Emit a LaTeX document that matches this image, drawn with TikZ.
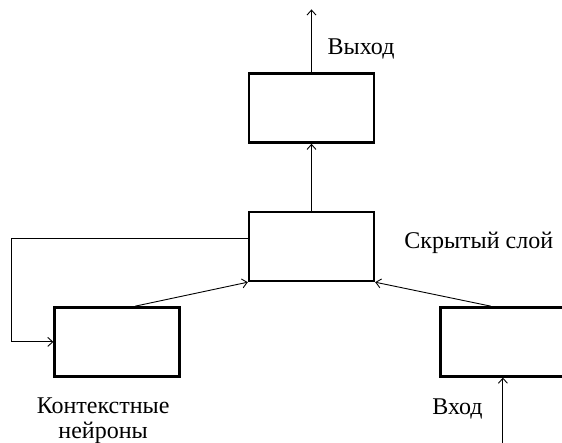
\documentclass[tikz,border=0pt]{standalone}
\usepackage{fontspec}
\setmainfont{Liberation Serif}
\usetikzlibrary{positioning,arrows.meta}

\begin{document}
\begin{tikzpicture}[auto, node distance=1cm,>={Straight Barb[length=5pt,width=9pt]},
    layer/.style={draw, line width=2.4pt, minimum width=125pt, minimum height=69pt, inner sep=0pt},
    lbl/.style={font=\fontsize{24}{25}\selectfont, inner sep=0pt},
    link/.style={->, line width=0.9pt}]

  \clip (-311.5pt,-196.5pt) rectangle (250.5pt,246.5pt);

  \node [layer] (hid) {};
  \node [layer, above=67pt of hid] (out) {};
  \node [layer, below left=24pt and 67pt of hid] (ctx) {};
  \node [layer, below right=24pt and 64pt of hid] (inp) {};

  \coordinate [above=63pt of out.north] (outend);
  \coordinate [below=80pt of inp.south] (inpstart);

  \node [lbl, anchor=base west] (outlbl) at ([xshift=16pt,yshift=18pt]out.north) {Выход};
  \node [lbl, anchor=base west] (hidlbl) at ([xshift=29pt,yshift=-2pt]hid.east) {Скрытый слой};
  \node [lbl, anchor=base, align=center] (ctxlbl) at ([xshift=-14pt,yshift=-61pt]ctx.south) {Контекстные\\нейроны};
  \node [lbl, anchor=base east] (inplbl) at ([xshift=-20pt,yshift=-37pt]inp.south) {Вход};

  \draw[link] (out.north) -- (outend);
  \draw[link] (hid.north) -- (out.south);
  \draw[link] ([xshift=18pt]ctx.north) -- (hid.south west);
  \draw[link] ([xshift=-12pt]inp.north) -- (hid.south east);
  \draw[link] (inpstart) -- (inp.south);
  \draw[link] ([yshift=8pt]hid.west) -| ([xshift=-42pt]ctx.west) -- (ctx.west);
\end{tikzpicture}
\end{document}
